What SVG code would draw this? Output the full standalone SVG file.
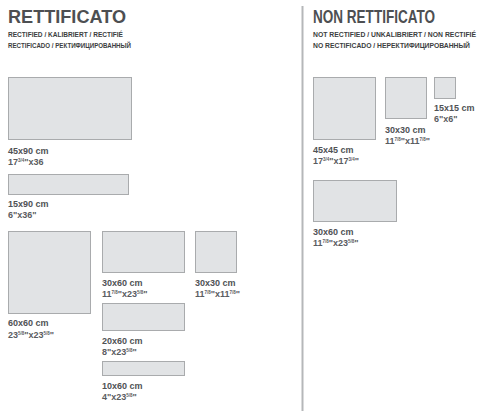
<svg xmlns="http://www.w3.org/2000/svg" width="484" height="417" viewBox="0 0 484 417">
<style>
.t{font-family:"Liberation Sans",Arial,sans-serif;font-weight:bold;fill:#4d4f52}
.h{font-size:18px}
.s{font-size:8px;fill:#3c3e40}
.l{font-family:"Liberation Sans",Arial,sans-serif;font-size:9px;font-weight:bold;fill:#505255}
.d{font-family:"Liberation Sans",Arial,sans-serif;font-size:9px;font-weight:bold;fill:#5a5c5f}
.f{font-size:4.5px}
.tile{fill:#e1e3e5;stroke:#a9abad;stroke-width:1}
</style>
<rect width="484" height="417" fill="#ffffff"/>
<line x1="302.5" y1="6" x2="302.5" y2="411" stroke="#b5b7b9" stroke-width="2"/>
<g id="header-left">
<text class="t h" x="8" y="23" textLength="118" lengthAdjust="spacingAndGlyphs">RETTIFICATO</text>
<text class="t s" x="8" y="37" textLength="115" lengthAdjust="spacingAndGlyphs">RECTIFIED / KALIBRIERT / RECTIFIÉ</text>
<text class="t s" x="8" y="48" textLength="123" lengthAdjust="spacingAndGlyphs">RECTIFICADO / РЕКТИФИЦИРОВАННЫЙ</text>
</g>
<g id="header-right">
<text class="t h" x="313" y="23" textLength="122" lengthAdjust="spacingAndGlyphs">NON RETTIFICATO</text>
<text class="t s" x="313" y="37" textLength="163" lengthAdjust="spacingAndGlyphs">NOT RECTIFIED / UNKALIBRIERT / NON RECTIFIÉ</text>
<text class="t s" x="313" y="48" textLength="157" lengthAdjust="spacingAndGlyphs">NO RECTIFICADO / НЕРЕКТИФИЦИРОВАННЫЙ</text>
</g>
<g id="r45x90">
<rect class="tile" x="8.5" y="77.5" width="123" height="62"/>
<text class="l" x="8" y="154">45x90 cm</text>
<text class="d" x="8" y="165">17<tspan class="f" dy="-3">3/4</tspan><tspan dy="3">"x36</tspan></text>
</g>
<g id="r15x90">
<rect class="tile" x="8.5" y="174.5" width="120" height="20"/>
<text class="l" x="8" y="207">15x90 cm</text>
<text class="d" x="8" y="218">6"x36"</text>
</g>
<g id="r60x60">
<rect class="tile" x="8.5" y="231.5" width="82" height="82"/>
<text class="l" x="8" y="326">60x60 cm</text>
<text class="d" x="8" y="338">23<tspan class="f" dy="-3">5/8</tspan><tspan dy="3">"x23</tspan><tspan class="f" dy="-3">5/8</tspan><tspan dy="3">"</tspan></text>
</g>
<g id="r30x60">
<rect class="tile" x="102.5" y="231.5" width="82" height="41"/>
<text class="l" x="102" y="286">30x60 cm</text>
<text class="d" x="102" y="297">11<tspan class="f" dy="-3">7/8</tspan><tspan dy="3">"x23</tspan><tspan class="f" dy="-3">5/8</tspan><tspan dy="3">"</tspan></text>
</g>
<g id="r30x30">
<rect class="tile" x="195.5" y="231.5" width="41" height="41"/>
<text class="l" x="195" y="286">30x30 cm</text>
<text class="d" x="195" y="297">11<tspan class="f" dy="-3">7/8</tspan><tspan dy="3">"x11</tspan><tspan class="f" dy="-3">7/8</tspan><tspan dy="3">"</tspan></text>
</g>
<g id="r20x60">
<rect class="tile" x="102.5" y="303.5" width="82" height="27"/>
<text class="l" x="102" y="344">20x60 cm</text>
<text class="d" x="102" y="355">8"x23<tspan class="f" dy="-3">5/8</tspan><tspan dy="3">"</tspan></text>
</g>
<g id="r10x60">
<rect class="tile" x="102.5" y="361.5" width="82" height="14"/>
<text class="l" x="102" y="389">10x60 cm</text>
<text class="d" x="102" y="400">4"x23<tspan class="f" dy="-3">5/8</tspan><tspan dy="3">"</tspan></text>
</g>
<g id="n45x45">
<rect class="tile" x="313.5" y="77.5" width="62" height="62"/>
<text class="l" x="313" y="153">45x45 cm</text>
<text class="d" x="313" y="164">17<tspan class="f" dy="-3">3/4</tspan><tspan dy="3">"x17</tspan><tspan class="f" dy="-3">3/4</tspan><tspan dy="3">"</tspan></text>
</g>
<g id="n30x30">
<rect class="tile" x="385.5" y="77.5" width="41" height="41"/>
<text class="l" x="385" y="133">30x30 cm</text>
<text class="d" x="385" y="144">11<tspan class="f" dy="-3">7/8</tspan><tspan dy="3">"x11</tspan><tspan class="f" dy="-3">7/8</tspan><tspan dy="3">"</tspan></text>
</g>
<g id="n15x15">
<rect class="tile" x="434.5" y="77.5" width="21" height="21"/>
<text class="l" x="434" y="111">15x15 cm</text>
<text class="d" x="434" y="122">6"x6"</text>
</g>
<g id="n30x60">
<rect class="tile" x="313.5" y="180.5" width="83" height="41"/>
<text class="l" x="313" y="235">30x60 cm</text>
<text class="d" x="313" y="246">11<tspan class="f" dy="-3">7/8</tspan><tspan dy="3">"x23</tspan><tspan class="f" dy="-3">5/8</tspan><tspan dy="3">"</tspan></text>
</g>
</svg>
